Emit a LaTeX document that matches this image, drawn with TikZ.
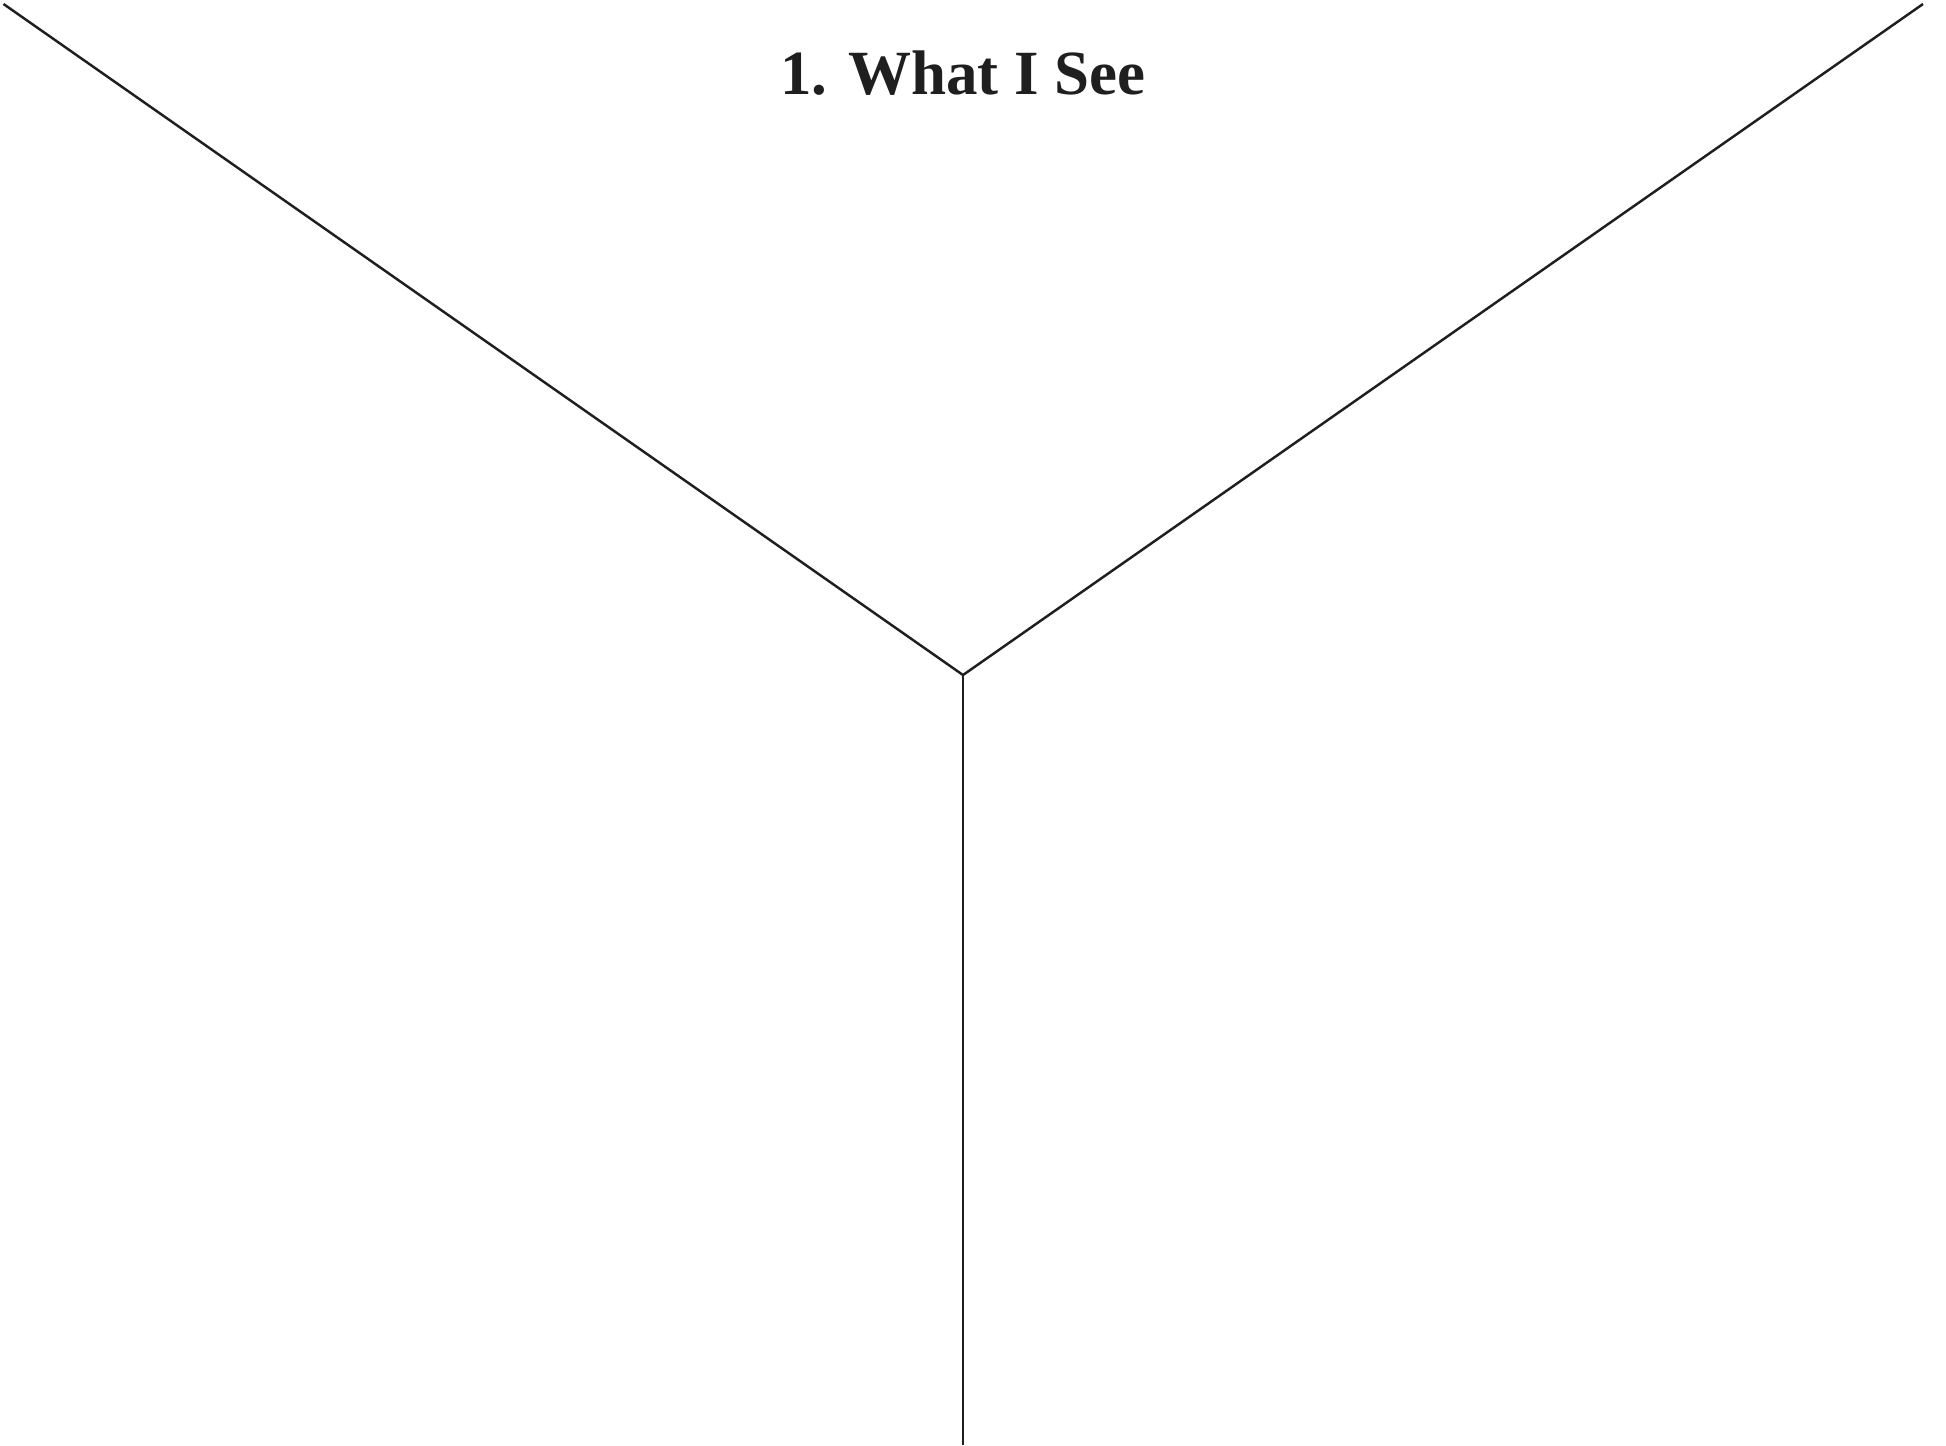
\documentclass[tikz,border=0pt]{standalone}
\usepackage{fontspec}
\setmainfont{Liberation Serif}
\usepackage{tikz}

\begin{document}
\begin{tikzpicture}[x=0.01cm,y=-0.01cm]
			\useasboundingbox (0,0) rectangle (1946,1445);
			\coordinate (leftend) at (3.5,4);
			\coordinate (rightend) at (1923,4);
			\coordinate (apex) at (963,675);
			\coordinate (bottom) at (963,1445);
			\draw[line width=0.7pt, color=black!88] (leftend) -- (apex) -- (rightend);
			\draw[line width=0.7pt, color=black!88] (apex) -- (bottom);
			\node[anchor=base, font=\fontsize{17.9}{21}\selectfont\bfseries, text=black!88] (title) at (963,94) {1. What I See};
	\end{tikzpicture}
\end{document}
